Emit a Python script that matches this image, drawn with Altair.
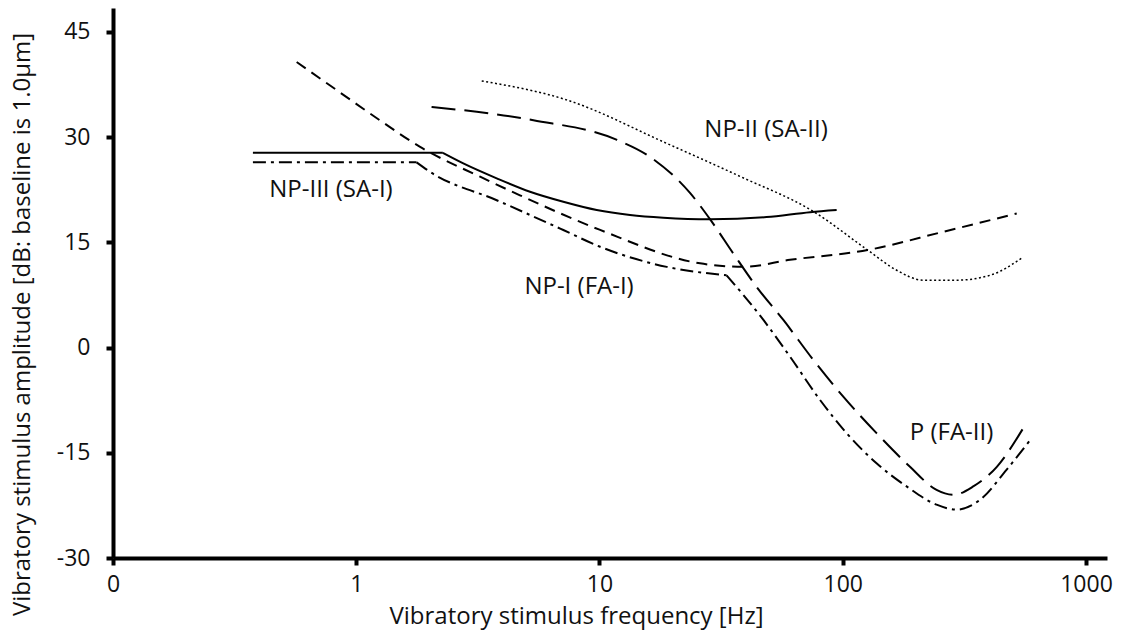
import altair as alt
import pandas as pd

# ---- data (frequency in Hz, amplitude in dB) ----
# NP-III (SA-I): solid — flat part, then curved part after the knee
solid_flat_f = [0.376, 2.27]
solid_flat_db = [27.75, 27.75]
solid_curve_f = [2.27, 2.755, 3.78, 5.18, 7.10, 9.74, 13.35, 18.3, 28.5, 48.6, 73.4, 94.4]
solid_curve_db = [27.75, 26.25, 24.12, 22.21, 20.78, 19.6, 18.89, 18.5, 18.28, 18.6, 19.3, 19.6]

# NP-I (FA-I): short dash
short_f = [0.569, 0.913, 1.25, 1.83, 3.23, 4.71, 10, 25.9, 39, 60.7, 126.5, 259, 519]
short_db = [40.7, 35.7, 32.4, 28.6, 24.35, 21.7, 16.8, 12.0, 11.5, 12.5, 13.9, 16.5, 19.1]

# P (FA-II): long dash
long_f = [2.04, 5.35, 11.8, 16.1, 23.6, 28.6, 35.5, 44.2, 57.0, 75.7, 100.5, 137.7,
          189, 243, 285, 344, 430, 552]
long_db = [34.3, 32.4, 29.6, 27.2, 22.0, 18.2, 13.4, 8.67, 3.93, -1.77, -7.0, -12.2,
           -17.0, -20.3, -21.0, -19.8, -17.0, -11.5]

# envelope: dash-dot — three pieces joined at sharp corners
dd_flat_f = [0.376, 1.77]
dd_flat_db = [26.4, 26.4]
dd_mid_f = [1.77, 2.01, 3.78, 7.10, 10, 18.9, 33.3]
dd_mid_db = [26.4, 25.05, 21.0, 16.75, 14.4, 11.5, 10.3]
dd_high_f = [33.3, 47.2, 60.7, 80.6, 103.7, 137.7, 183, 243, 294, 367, 472, 589]
dd_high_db = [10.3, 3.93, -1.3, -7.46, -12.2, -16.5, -19.8, -22.4, -23.1, -21.7, -17.4, -13.2]

# NP-II (SA-II): dotted
dot_f = [3.28, 7.33, 18.9, 37.8, 75.7, 126.5, 166, 214, 294, 403, 552]
dot_db = [38.0, 35.3, 29.1, 24.4, 19.4, 13.9, 11.05, 9.6, 9.6, 10.3, 12.9]

label_text = ["NP-III (SA-I)", "NP-I (FA-I)", "NP-II (SA-II)", "P (FA-II)"]
label_f = [0.787, 8.24, 48.4, 280]
label_db = [22.45, 8.67, 31.0, -12.2]

x_ticks = [0.1, 1, 10, 100, 1000]
y_ticks = [-30, -15, 0, 15, 30, 45]

FONT = "Open Sans"

x_scale = alt.Scale(type="log", domain=[0.1, 1220], nice=False)
y_scale = alt.Scale(domain=[-30, 48.4], nice=False, zero=False)

x_axis = alt.Axis(
    values=x_ticks, format="d", title="Vibratory stimulus frequency [Hz]",
    grid=False, labelFlush=False, labelOverlap=False,
    titleX=463, titleY=58, titleBaseline="middle", titleAnchor="start", titleAlign="center",
    labelPadding=8,
)
y_axis = alt.Axis(
    values=y_ticks, title="Vibratory stimulus amplitude [dB: baseline is 1.0μm]",
    grid=False, labelFlush=False, labelExpr="'' + datum.value",
    titleX=-91, titleY=316, titleAngle=-90, titleBaseline="middle", titleAlign="center",
    labelPadding=16,
)


def pieces(parts):
    rows = []
    for i, (fs, dbs) in enumerate(parts):
        for f, d in zip(fs, dbs):
            rows.append({"f": f, "db": d, "seg": i})
    return pd.DataFrame(rows)


def series(parts, dash, width=2.0):
    df = pieces(parts)
    kw = dict(color="black", strokeWidth=width, interpolate="monotone", clip=True)
    if dash:
        kw["strokeDash"] = dash
    return alt.Chart(df).mark_line(**kw).encode(
        x=alt.X("f:Q", scale=x_scale, axis=x_axis),
        y=alt.Y("db:Q", scale=y_scale, axis=y_axis),
        detail="seg:N",
        order="f:Q",
    )


solid = series([(solid_flat_f, solid_flat_db), (solid_curve_f, solid_curve_db)], None)
short = series([(short_f, short_db)], [11, 7])
longd = series([(long_f, long_db)], [24, 9])
dd = series([(dd_flat_f, dd_flat_db), (dd_mid_f, dd_mid_db), (dd_high_f, dd_high_db)],
            [13, 5, 3, 5])
dotted = series([(dot_f, dot_db)], [2, 2.5], width=1.5)

labels_df = pd.DataFrame({"t": label_text, "f": label_f, "db": label_db})
labels = alt.Chart(labels_df).mark_text(
    font=FONT, fontSize=24, color="#111", align="center", baseline="middle"
).encode(
    x=alt.X("f:Q", scale=x_scale, axis=x_axis),
    y=alt.Y("db:Q", scale=y_scale, axis=y_axis),
    text="t:N",
)

chart = (
    alt.layer(solid, short, longd, dd, dotted, labels)
    .properties(
        width=994, height=550,
        autosize=alt.AutoSizeParams(type="none"),
        padding={"left": 113, "top": 8, "right": 15, "bottom": 75},
        background="white",
    )
    .configure_view(stroke=None)
    .configure_axis(
        domainColor="black", domainWidth=4, tickColor="black", tickWidth=4, tickSize=7,
        labelFont=FONT, labelFontSize=23, labelColor="#111",
        titleFont=FONT, titleFontSize=24, titleColor="#111", titleFontWeight="normal",
    )
)

chart.save("out.html", embed_options={"renderer": "svg", "actions": False})
